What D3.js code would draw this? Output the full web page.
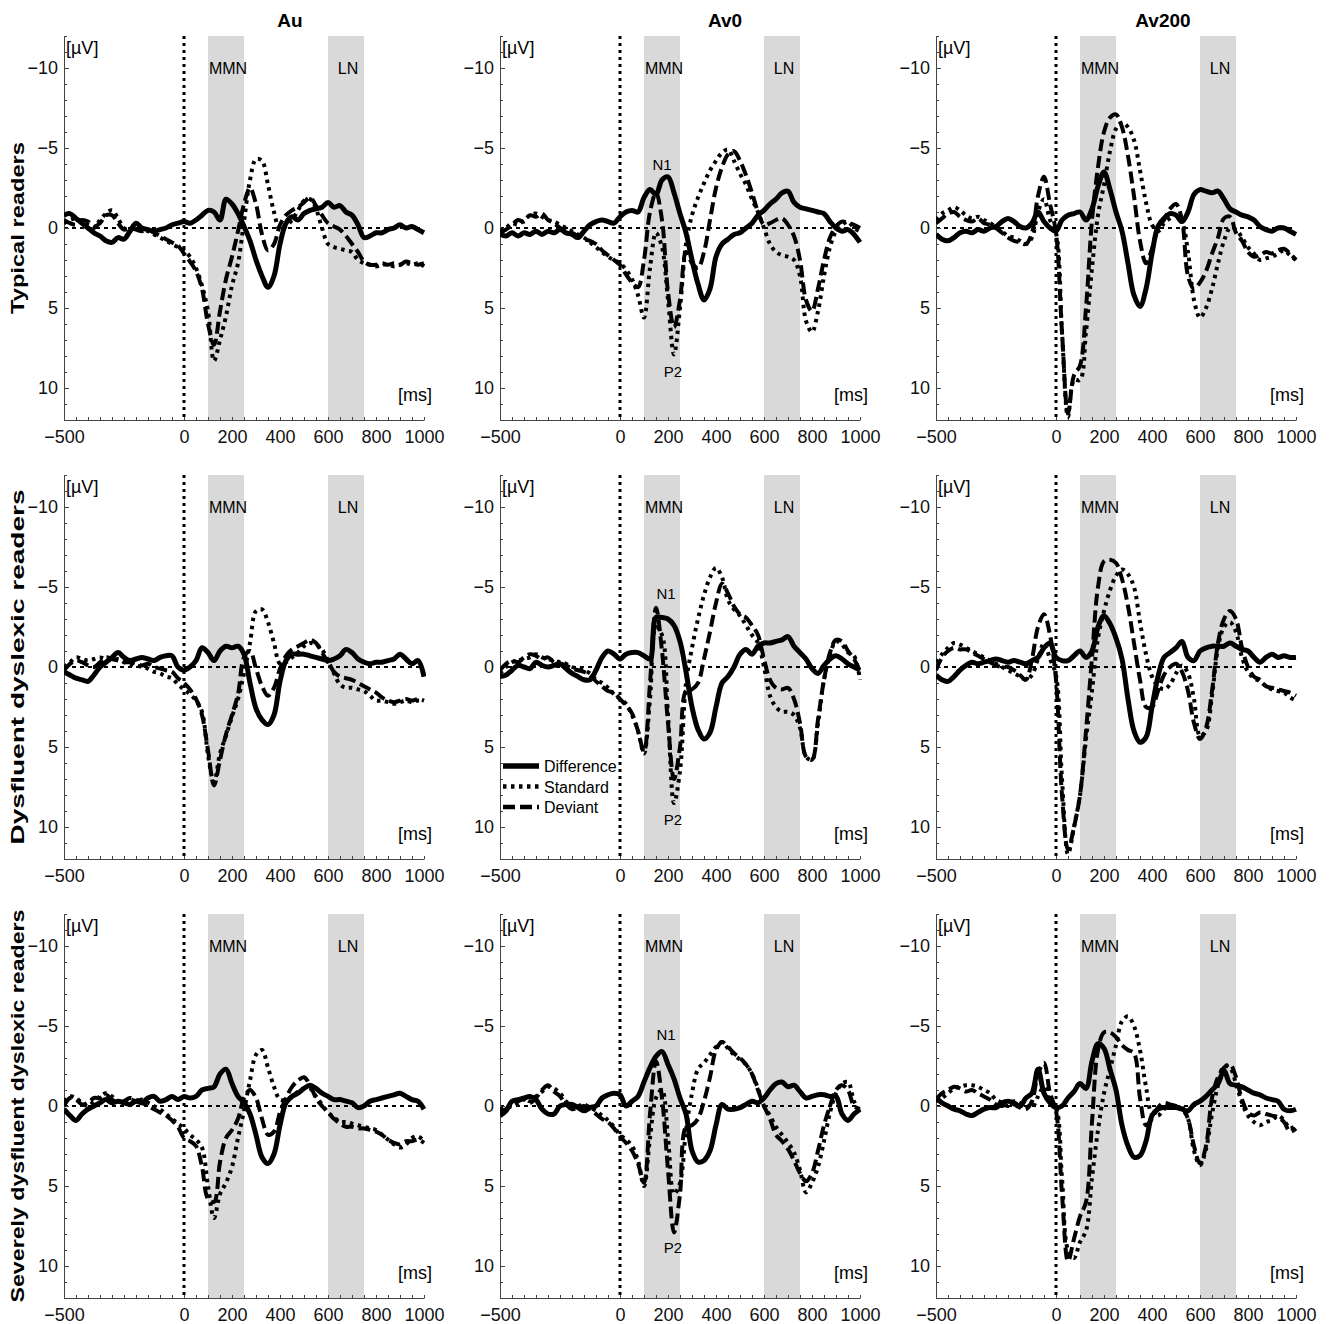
<!DOCTYPE html>
<html>
<head>
<meta charset="utf-8">
<script src="https://cdn.jsdelivr.net/npm/d3@7"></script>
<style>
  body { margin: 0; background: #fff; }
  svg { display: block; font-family: "Liberation Sans", Arial, Helvetica, sans-serif; }
</style>
</head>
<body>
<div id="chart"></div>
<script>
// time base shared by every waveform (ms)
const timesMs = d3.range(-500, 1001, 25);

const groups = ["Typical readers", "Dysfluent dyslexic readers", "Severely dysfluent dyslexic readers"];
const conditions = ["Au", "Av0", "Av200"];
const seriesNames = ["Difference", "Standard", "Deviant"];
const mmnWindow = [100, 250];
const lnWindow = [600, 750];
const xTickValues = [-500, 0, 200, 400, 600, 800, 1000];
const yTickValues = [-10, -5, 0, 5, 10];

// N1 / P2 labels in the Av0 column: [row, text, ms, µV]
const peakLabels = [
  [0, "N1", 175, -3.6], [0, "P2", 221, 9.3],
  [1, "N1", 192, -4.25], [1, "P2", 221, 9.9],
  [2, "N1", 192, -4.1], [2, "P2", 221, 9.2]
];

// ---- Typical readers ----
const typAuDiff = [-0.8,-0.9,-0.6,-0.3,0.0,0.3,0.5,0.8,0.9,0.6, 0.7,0.2,-0.3,0.0,0.1,0.2,0.1,0.0,-0.2,-0.3,
  -0.4,-0.3,-0.5,-0.8,-1.1,-1.0,-0.5,-1.8,-1.5,-0.9, -0.1,0.8,2.0,3.0,3.7,3.0,1.0,-0.3,-0.7,-0.5,
  -0.9,-1.1,-1.2,-1.3,-1.6,-1.3,-1.4,-1.0,-0.8,-0.2, 0.6,0.5,0.3,0.3,0.1,0.0,-0.2,0.0,-0.1,0.1, 0.3];
const typAuStd = [-0.3,-0.5,-0.6,-0.4,-0.2,0.0,-0.5,-0.9,-1.1,-0.6, 0.0,0.1,0.0,0.1,0.2,0.4,0.6,0.8,1.0,1.2,
  1.4,1.8,2.5,3.6,5.2,8.3,7.0,5.5,3.6,2.2, -0.4,-3.0,-4.3,-4.2,-2.7,-1.0,0.1,-0.1,-0.5,-1.1,
  -1.7,-1.8,-1.2,0.0,1.0,1.2,1.3,1.4,1.5,2.0, 2.2,2.3,2.4,2.3,2.3,2.4,2.3,2.2,2.3,2.2, 2.4];
const typAuDev = [-0.5,-0.3,-0.2,-0.5,-0.4,-0.1,-0.3,-0.8,-0.8,-0.3, 0.1,0.0,0.1,0.2,0.1,0.3,0.5,0.7,0.9,1.1,
  1.6,2.1,2.7,3.8,6.0,7.3,5.2,3.2,1.8,0.2, -1.5,-2.5,-1.5,0.4,1.4,1.0,-0.2,-0.8,-1.1,-1.3,
  -1.6,-1.9,-1.4,-0.8,-0.3,-0.1,0.1,0.5,1.0,1.5, 2.1,2.3,2.3,2.2,2.3,2.2,2.3,2.1,2.2,2.3, 2.2];

const typAv0Diff = [0.4,0.5,0.3,0.5,0.3,0.4,0.2,0.4,0.2,0.3, 0.1,0.3,0.4,0.6,0.2,-0.2,-0.4,-0.5,-0.4,-0.3,
  -0.7,-1.0,-1.1,-1.0,-1.9,-2.4,-2.1,-3.0,-3.2,-2.2, -0.9,0.3,2.0,3.5,4.5,3.8,1.8,1.0,0.7,0.4,
  0.3,0.0,-0.3,-0.8,-1.1,-1.5,-1.8,-2.2,-2.3,-1.6, -1.3,-1.2,-1.1,-1.0,-0.9,-0.4,0.0,0.2,0.1,0.4, 0.9];
const typAv0Std = [0.2,0.0,-0.3,-0.2,-0.5,-0.8,-0.9,-0.7,-0.5,-0.4, -0.2,0.0,0.2,0.4,0.6,0.9,1.2,1.5,1.8,2.0,
  2.2,2.6,3.2,4.2,5.6,2.5,0.3,1.2,4.5,7.9, 5.0,1.0,-0.8,-1.9,-2.8,-3.6,-4.2,-4.7,-4.9,-4.2,
  -3.4,-2.7,-1.8,-1.0,0.0,1.0,1.5,1.7,1.8,2.0, 3.0,5.8,6.5,5.2,3.0,1.2,0.2,-0.2,-0.4,0.0, 0.2];
const typAv0Dev = [0.3,0.1,-0.2,-0.5,-0.4,-0.8,-0.7,-0.9,-0.5,-0.3, 0.0,0.2,0.3,0.5,0.7,0.8,1.0,1.4,1.7,2.0,
  2.3,2.9,3.4,3.7,2.0,-1.0,-2.2,-0.5,4.0,6.2, 4.5,1.5,2.2,2.5,1.5,-0.5,-2.5,-3.8,-4.6,-4.8,
  -4.2,-3.3,-2.2,-1.0,-0.2,-0.3,-0.5,-0.6,-0.2,0.5, 2.0,4.5,5.2,3.8,2.0,0.6,-0.1,-0.4,-0.3,-0.2, 0.0];

const typAv200Diff = [0.4,0.7,0.8,0.6,0.3,0.2,0.3,0.1,0.2,0.0, -0.1,-0.4,-0.6,-0.4,-0.1,0.0,-0.3,-1.0,-0.4,0.0,
  0.2,-0.5,-0.8,-0.9,-1.0,-0.5,-1.2,-2.6,-3.5,-2.4, -1.0,0.2,2.2,4.2,4.9,3.8,1.6,-0.1,-0.6,-0.9,
  -0.8,-0.4,-1.0,-2.1,-2.4,-2.3,-2.2,-2.3,-1.8,-1.2, -1.0,-0.8,-0.7,-0.5,-0.1,0.1,0.2,0.0,0.0,0.2, 0.4];
const typAv200Std = [-0.5,-0.9,-1.1,-1.3,-1.1,-0.8,-0.6,-0.7,-0.5,-0.3, -0.1,0.2,0.5,0.6,0.8,1.0,0.6,-1.0,-1.8,-0.5,
  0.3,6.5,11.8,9.5,9.5,6.5,2.5,-0.8,-2.7,-4.8, -6.2,-6.6,-6.3,-5.5,-3.6,-1.6,-0.2,0.2,-0.3,-0.6,
  -0.8,-0.4,1.5,4.5,5.6,5.0,3.8,2.2,0.8,0.0, 0.1,0.6,1.2,1.6,2.0,1.9,1.8,1.6,1.4,1.7, 2.0];
const typAv200Dev = [-0.3,-0.6,-0.9,-1.0,-0.7,-0.5,-0.4,-0.6,-0.3,-0.2, 0.0,0.3,0.6,0.8,0.9,1.0,0.3,-2.0,-3.2,-1.5,
  0.3,6.5,11.6,9.2,8.6,5.0,-0.5,-3.8,-6.0,-6.9, -7.1,-6.3,-4.5,-2.0,0.8,2.2,1.3,0.0,-0.5,-1.2,
  -1.5,-0.5,3.0,3.8,3.4,2.7,1.6,0.6,-0.6,-0.7, 0.3,0.8,1.5,1.8,1.7,1.5,1.6,1.4,1.3,1.6, 2.0];

// ---- Dysfluent dyslexic readers ----
const dysAuDiff = [0.3,0.5,0.7,0.8,0.9,0.5,0.0,-0.3,-0.6,-0.9, -0.6,-0.4,-0.5,-0.6,-0.5,-0.4,-0.6,-0.7,-0.7,0.0,
  0.2,0.0,-0.4,-1.2,-0.9,-0.4,-1.0,-1.3,-1.2,-1.3, -0.8,1.0,2.6,3.3,3.6,3.0,0.9,-0.4,-0.8,-0.8,
  -0.8,-0.7,-0.6,-0.5,-0.4,-0.5,-0.7,-1.1,-0.9,-0.5, -0.3,-0.2,-0.3,-0.3,-0.4,-0.5,-0.8,-0.5,-0.2,-0.4, 0.6];
const dysAuStd = [0.0,-0.3,-0.6,-0.5,-0.4,-0.5,-0.6,-0.5,-0.4,-0.5, -0.3,-0.2,-0.1,0.0,0.1,0.3,0.4,0.6,0.7,1.1,
  1.4,1.7,2.1,2.8,5.5,7.2,5.4,4.3,3.1,2.0, 0.4,-1.5,-3.5,-3.6,-2.8,-1.5,-0.2,-0.3,-0.6,-0.9,
  -1.3,-1.5,-1.4,-1.1,-0.4,0.4,1.1,1.3,1.3,1.4, 1.5,1.8,2.1,2.1,2.2,2.3,2.2,2.1,2.2,2.1, 2.1];
const dysAuDev = [0.2,-0.2,-0.4,-0.3,-0.1,0.0,-0.3,-0.6,-0.5,-0.4, -0.3,-0.3,-0.2,-0.1,-0.2,0.0,0.1,0.2,0.3,0.7,
  1.0,1.4,2.0,3.0,5.2,7.4,5.8,4.2,3.0,1.7, -0.6,-1.0,0.1,1.2,1.8,1.3,0.1,-0.7,-1.1,-1.3,
  -1.5,-1.7,-1.5,-0.9,-0.3,0.3,0.6,0.7,0.8,1.0, 1.2,1.4,1.6,1.9,2.1,2.2,2.1,2.0,2.1,2.0, 2.1];

const dysAv0Diff = [0.6,0.5,0.2,-0.1,0.0,0.1,-0.3,-0.1,0.0,-0.1, -0.2,0.1,0.4,0.6,0.8,0.8,0.2,-0.6,-1.0,-0.8,
  -0.5,-0.8,-0.9,-0.9,-0.7,-0.5,-3.1,-3.1,-3.0,-2.6, -1.6,0.3,2.5,3.9,4.5,4.1,2.5,1.0,0.6,0.0,
  -0.8,-1.1,-0.8,-1.3,-1.5,-1.5,-1.6,-1.7,-1.9,-1.3, -0.9,-0.5,0.1,0.4,-0.1,-0.5,-0.7,-0.5,-0.2,0.0, 0.2];
const dysAv0Std = [0.4,0.0,-0.3,-0.4,-0.5,-0.6,-0.8,-0.6,-0.5,-0.4, -0.3,-0.2,0.0,0.1,0.2,0.4,0.8,1.0,1.3,1.7,
  2.0,2.3,3.0,4.0,5.4,2.0,-2.5,-2.0,3.0,8.5, 6.5,1.0,-1.2,-3.0,-4.5,-5.6,-6.2,-5.6,-4.2,-3.6,
  -3.2,-2.6,-2.0,-1.5,0.0,1.8,2.5,2.8,2.8,3.0, 3.8,5.6,5.8,3.5,0.8,-0.8,-1.6,-1.4,-0.9,-0.7, 0.8];
const dysAv0Dev = [0.2,-0.2,-0.4,-0.3,-0.6,-0.8,-0.7,-0.5,-0.6,-0.3, -0.2,-0.1,0.1,0.2,0.3,0.5,0.9,1.2,1.5,1.6,
  2.0,2.4,2.9,4.0,5.3,1.0,-3.7,-1.0,3.5,7.0, 5.0,1.5,1.4,1.0,-0.5,-2.2,-4.0,-5.2,-4.6,-3.8,
  -3.3,-3.1,-2.6,-2.0,-0.5,0.8,1.3,1.4,1.3,2.0, 3.5,5.6,5.8,3.3,0.8,-0.9,-1.7,-1.6,-1.0,-0.5, 0.3];

const dysAv200Diff = [0.5,0.8,0.9,0.6,0.2,-0.1,-0.3,-0.2,-0.3,-0.4, -0.5,-0.4,-0.3,-0.4,-0.3,-0.2,-0.4,-0.6,-1.2,-1.5,
  -0.6,-0.4,-0.4,-0.7,-1.0,-0.6,-1.0,-2.5,-3.2,-2.7, -1.8,-0.5,2.0,4.0,4.7,4.4,2.5,0.6,-0.6,-0.9,
  -1.2,-1.6,-0.6,-0.4,-1.0,-1.2,-1.3,-1.3,-1.3,-1.5, -1.3,-1.1,-1.0,-0.6,-0.3,-0.6,-0.8,-0.6,-0.7,-0.6, -0.6];
const dysAv200Std = [-0.3,-0.8,-1.2,-1.5,-1.4,-1.2,-1.0,-0.8,-0.6,-0.4, -0.2,0.0,0.2,0.4,0.6,0.8,0.5,-0.5,-1.5,-0.5,
  0.5,7.0,11.7,10.0,8.0,4.5,1.5,-1.8,-3.5,-4.8, -5.7,-6.1,-5.8,-5.0,-2.8,-0.8,0.6,1.2,1.4,1.1,
  0.4,-0.1,0.4,2.0,4.3,4.0,1.8,-1.2,-2.5,-2.8, -2.2,-0.6,0.3,0.7,0.9,1.2,1.4,1.5,1.6,1.9, 2.1];
const dysAv200Dev = [0.2,-0.6,-1.0,-1.2,-1.1,-1.1,-0.9,-0.7,-0.5,-0.3, -0.1,0.0,0.0,0.2,0.5,0.8,-0.5,-2.5,-3.3,-2.0,
  0.8,8.0,11.4,10.0,8.0,4.0,-0.6,-5.0,-6.6,-6.7, -6.5,-5.5,-3.8,-1.5,0.8,2.5,2.5,1.5,0.5,0.0,
  -0.2,0.3,1.5,3.5,4.5,3.8,1.5,-1.5,-3.0,-3.5, -3.0,-1.2,0.0,0.6,0.8,1.2,1.3,1.4,1.5,1.6, 1.8];

// ---- Severely dysfluent dyslexic readers ----
const sevAuDiff = [0.2,0.6,0.9,0.5,0.2,0.0,-0.2,-0.4,-0.2,-0.3, -0.2,-0.1,-0.3,-0.2,-0.5,-0.6,-0.3,-0.4,-0.6,-0.4,
  -0.6,-0.5,-0.6,-1.0,-1.1,-1.2,-2.0,-2.3,-1.4,-0.6, -0.2,0.5,1.8,3.2,3.6,3.0,1.2,-0.2,-0.6,-0.8,
  -1.1,-1.3,-1.1,-0.8,-0.6,-0.4,-0.4,-0.3,-0.2,0.1, 0.0,-0.3,-0.4,-0.5,-0.6,-0.7,-0.8,-0.6,-0.4,-0.3, 0.2];
const sevAuStd = [-0.3,-0.6,-0.5,-0.2,0.0,-0.3,-0.6,-0.8,-0.6,-0.3, -0.2,-0.4,-0.3,-0.4,-0.2,0.0,0.2,0.5,0.8,1.1,
  1.4,1.8,2.1,2.6,5.0,7.0,5.5,4.8,3.8,2.0, 0.3,-1.6,-3.2,-3.5,-2.4,-1.2,-0.4,-0.4,-0.6,-0.9,
  -1.1,-1.1,-0.6,-0.1,0.4,0.7,1.0,1.0,1.1,1.2, 1.3,1.4,1.5,1.8,2.1,2.4,2.6,2.4,2.0,1.9, 2.2];
const sevAuDev = [0.0,-0.5,-0.4,-0.1,-0.2,-0.5,-0.5,-0.7,-0.4,-0.2, -0.3,-0.5,-0.4,-0.2,0.0,0.2,0.4,0.6,0.9,1.3,
  2.0,2.2,2.5,3.8,5.8,6.0,3.5,2.0,1.5,0.8, -0.5,-1.0,-0.5,0.8,1.8,1.6,0.4,-0.5,-1.2,-1.6,
  -1.8,-1.3,-0.5,0.0,0.4,0.8,1.1,1.3,1.3,1.4, 1.4,1.5,1.6,1.8,2.1,2.3,2.4,2.2,2.2,2.1, 2.3];

const sevAv0Diff = [0.6,0.3,-0.3,-0.4,-0.5,-0.6,-0.4,0.2,0.5,0.5, 0.0,-0.1,-0.1,0.1,0.3,0.1,0.0,-0.5,-0.7,-0.8,
  -0.7,0.0,-0.3,-0.6,-1.5,-2.4,-3.1,-3.4,-2.6,-1.7, -0.5,0.5,2.8,3.5,3.4,2.8,1.2,-0.1,0.2,0.2,
  0.1,-0.1,-0.3,-0.2,-0.5,-1.0,-1.4,-1.5,-1.2,-1.3, -0.9,-0.5,-0.6,-0.7,-0.7,-0.6,-0.6,0.5,0.9,0.5, 0.2];
const sevAv0Std = [0.2,0.1,0.0,-0.2,-0.5,-0.3,-0.6,-0.9,-1.2,-1.1, -0.8,-0.3,0.1,0.0,-0.1,0.1,0.3,0.6,0.9,1.3,
  1.8,2.1,2.5,3.4,5.0,2.0,-0.5,-1.0,2.0,5.5, 4.8,1.5,-0.8,-2.3,-2.7,-3.2,-3.7,-4.0,-3.6,-3.2,
  -2.9,-2.6,-2.0,-1.1,0.0,0.6,1.3,1.8,2.3,2.9, 4.0,5.4,4.8,3.8,2.2,0.4,-0.8,-1.4,-1.5,-0.3, 0.4];
const sevAv0Dev = [0.3,0.2,-0.1,-0.3,-0.4,-0.2,-0.5,-1.0,-1.3,-0.9, -0.6,-0.1,0.2,0.1,0.0,0.2,0.5,0.8,1.0,1.4,
  1.9,2.3,2.8,3.6,4.8,0.5,-2.8,-0.5,4.0,7.9, 5.5,1.3,1.2,0.8,-0.3,-1.8,-3.5,-4.0,-3.7,-3.3,
  -3.0,-2.6,-2.0,-1.0,0.0,0.8,1.8,2.2,2.7,3.4, 4.2,4.7,4.2,2.8,1.2,0.0,-1.0,-1.3,-1.0,0.0, 0.2];

const sevAv200Diff = [-0.5,-0.2,0.0,0.2,0.3,0.5,0.6,0.4,0.2,0.1, 0.1,-0.2,-0.3,-0.2,0.0,-0.5,-0.8,-2.3,-0.8,-0.2,
  0.1,0.0,-0.5,-0.9,-1.4,-1.1,-2.8,-3.9,-3.6,-2.3, -1.0,1.2,2.5,3.2,3.1,2.2,0.6,0.2,0.1,0.1,
  0.1,0.2,0.3,-0.1,-0.3,-0.6,-1.0,-1.4,-2.2,-1.4, -1.3,-1.2,-1.0,-0.8,-0.7,-0.5,-0.4,-0.3,0.2,0.3, 0.2];
const sevAv200Std = [-0.3,-0.5,-0.8,-1.1,-1.2,-1.3,-1.3,-1.2,-1.0,-0.8, -0.4,-0.2,0.0,-0.3,-0.2,0.0,0.1,-0.6,-1.2,-0.3,
  0.1,4.5,9.0,9.5,8.5,7.8,4.5,1.5,-0.8,-2.3, -3.8,-5.3,-5.6,-5.0,-3.5,-1.2,0.5,0.6,0.2,0.0,
  0.0,0.2,0.8,2.8,3.7,2.7,0.5,-1.3,-2.5,-2.4, -1.4,-0.2,0.6,1.0,1.2,1.0,0.9,0.6,0.9,1.4, 1.2];
const sevAv200Dev = [-0.4,-0.8,-1.0,-1.2,-1.1,-0.9,-1.0,-0.8,-0.6,-0.4, -0.1,0.0,-0.2,-0.1,0.1,0.2,-0.3,-2.0,-2.7,-0.8,
  0.3,5.5,9.7,8.3,6.9,6.0,1.0,-3.5,-4.6,-4.6, -4.3,-3.8,-3.5,-3.3,-0.5,1.2,0.8,0.1,-0.2,-0.1,
  0.0,0.1,0.8,2.5,3.6,2.5,-0.5,-1.8,-2.4,-2.6, -1.8,-0.4,0.4,0.6,0.4,0.5,0.6,0.7,1.0,1.6, 1.4];

// rows = groups, columns = conditions; each cell = [Difference, Standard, Deviant]
const panels = [
  [[typAuDiff, typAuStd, typAuDev], [typAv0Diff, typAv0Std, typAv0Dev], [typAv200Diff, typAv200Std, typAv200Dev]],
  [[dysAuDiff, dysAuStd, dysAuDev], [dysAv0Diff, dysAv0Std, dysAv0Dev], [dysAv200Diff, dysAv200Std, dysAv200Dev]],
  [[sevAuDiff, sevAuStd, sevAuDev], [sevAv0Diff, sevAv0Std, sevAv0Dev], [sevAv200Diff, sevAv200Std, sevAv200Dev]]
];

// ---- layout ----
const width = 1332, height = 1324;
const colLeft = [64, 500, 936];
const rowTop = [36, 475, 914];
const plotW = 360, plotH = 384;
const titleX = [290, 725, 1163];
const rowLabelLen = [172, 355, 393];

const lineStyle = {
  Difference: { width: 5, dash: null },
  Standard: { width: 4, dash: "3.5,4.5" },
  Deviant: { width: 4, dash: "12,5" }
};

const svg = d3.select("#chart").append("svg")
  .attr("width", width)
  .attr("height", height);

// column titles
conditions.forEach((name, c) => {
  svg.append("text")
    .attr("x", titleX[c]).attr("y", 27)
    .attr("text-anchor", "middle")
    .attr("font-size", 19).attr("font-weight", "bold")
    .text(name);
});

// row labels
groups.forEach((name, r) => {
  const cy = rowTop[r] + plotH / 2;
  svg.append("text")
    .attr("transform", `translate(24,${cy}) rotate(-90)`)
    .attr("text-anchor", "middle")
    .attr("font-size", 19).attr("font-weight", "bold")
    .attr("textLength", rowLabelLen[r])
    .attr("lengthAdjust", "spacingAndGlyphs")
    .text(name);
});

panels.forEach((row, r) => row.forEach((cell, c) => {
  const x = d3.scaleLinear().domain([-500, 1000]).range([colLeft[c], colLeft[c] + plotW]);
  const y = d3.scaleLinear().domain([-12, 12]).range([rowTop[r], rowTop[r] + plotH]);
  const g = svg.append("g");
  const clipId = `clip-${r}-${c}`;

  g.append("clipPath").attr("id", clipId)
    .append("rect")
    .attr("x", x(-500)).attr("y", y(-12))
    .attr("width", plotW + 2).attr("height", plotH);

  // analysis windows
  [mmnWindow, lnWindow].forEach(w => {
    g.append("rect")
      .attr("x", x(w[0])).attr("y", y(-12))
      .attr("width", x(w[1]) - x(w[0])).attr("height", plotH)
      .attr("fill", "#d9d9d9");
  });

  [["MMN", mmnWindow], ["LN", lnWindow]].forEach(([lab, w]) => {
    g.append("text")
      .attr("x", x((w[0] + w[1]) / 2) + 2).attr("y", y(-12) + 38)
      .attr("text-anchor", "middle")
      .attr("font-size", 16)
      .text(lab);
  });

  // zero lines
  g.append("line")
    .attr("x1", x(-500)).attr("x2", x(1000))
    .attr("y1", y(0)).attr("y2", y(0))
    .attr("stroke", "#000").attr("stroke-width", 2.2)
    .attr("stroke-dasharray", "4,4");
  g.append("line")
    .attr("x1", x(0)).attr("x2", x(0))
    .attr("y1", y(-12)).attr("y2", y(12))
    .attr("stroke", "#000").attr("stroke-width", 3)
    .attr("stroke-dasharray", "3,4");

  // axes
  g.append("g")
    .attr("transform", `translate(${x(-500)},0)`)
    .call(d3.axisLeft(y).tickValues(yTickValues).tickSize(0).tickPadding(6))
    .call(a => a.select(".domain").attr("stroke", "#444"))
    .call(a => a.selectAll("text").attr("font-size", 18).attr("font-family", null).attr("fill", "#111"));
  g.append("g")
    .attr("transform", `translate(${x(-500)},0)`)
    .call(d3.axisRight(y).tickValues(d3.range(-12, 13)).tickSize(3).tickFormat(""))
    .call(a => a.select(".domain").remove())
    .call(a => a.selectAll("line").attr("stroke", "#444")
      .attr("x2", d => d % 5 === 0 ? 5 : 3));
  g.append("g")
    .attr("transform", `translate(0,${y(12)})`)
    .call(d3.axisBottom(x).tickValues(xTickValues).tickFormat(d3.format("d")).tickSize(0).tickPadding(10))
    .call(a => a.select(".domain").attr("stroke", "#444"))
    .call(a => a.selectAll("text").attr("font-size", 18).attr("font-family", null).attr("fill", "#111"));
  g.append("g")
    .attr("transform", `translate(0,${y(12)})`)
    .call(d3.axisTop(x).tickValues(d3.range(-500, 1001, 50)).tickSize(3).tickFormat(""))
    .call(a => a.select(".domain").remove())
    .call(a => a.selectAll("line").attr("stroke", "#444"));

  // unit labels
  g.append("text")
    .attr("x", x(-500) + 2).attr("y", y(-12) + 18)
    .attr("font-size", 18)
    .text("[\u00b5V]");
  g.append("text")
    .attr("x", x(1000) + 8).attr("y", y(12) - 19)
    .attr("text-anchor", "end")
    .attr("font-size", 18)
    .text("[ms]");

  // waveforms
  const line = d3.line()
    .x((d, i) => x(timesMs[i]))
    .y(d => y(d))
    .curve(d3.curveCatmullRom.alpha(0.5));

  [1, 2, 0].forEach(k => {
    const st = lineStyle[seriesNames[k]];
    g.append("path")
      .datum(cell[k])
      .attr("clip-path", `url(#${clipId})`)
      .attr("fill", "none")
      .attr("stroke", "#000")
      .attr("stroke-width", st.width)
      .attr("stroke-dasharray", st.dash)
      .attr("stroke-linejoin", "round")
      .attr("d", line);
  });

  // N1 / P2 labels in the Av0 column
  if (c === 1) {
    peakLabels.filter(p => p[0] === r).forEach(p => {
      g.append("text")
        .attr("x", x(p[2])).attr("y", y(p[3]))
        .attr("text-anchor", "middle")
        .attr("font-size", 15)
        .text(p[1]);
    });
  }

  // legend (middle panel)
  if (r === 1 && c === 1) {
    const legend = g.append("g");
    seriesNames.forEach((name, k) => {
      const st = lineStyle[name];
      const ly = 766 + k * 20.5;
      legend.append("line")
        .attr("x1", 503).attr("x2", 539)
        .attr("y1", ly).attr("y2", ly)
        .attr("stroke", "#000")
        .attr("stroke-width", st.width + 0.4)
        .attr("stroke-dasharray", st.dash);
      legend.append("text")
        .attr("x", 544).attr("y", ly + 6)
        .attr("font-size", 16)
        .text(name);
    });
  }
}));
</script>
</body>
</html>
